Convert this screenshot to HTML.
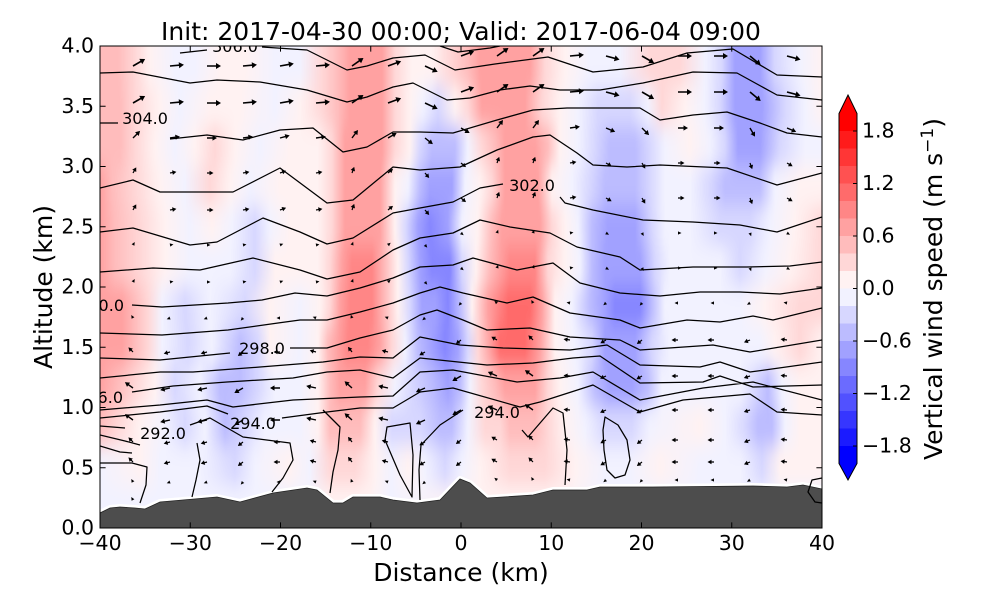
<!DOCTYPE html>
<html><head><meta charset="utf-8">
<style>
html,body{margin:0;padding:0;background:#fff;}
svg{display:block;}
text{font-family:"DejaVu Sans","Liberation Sans",sans-serif;fill:#000;}
.p1{stop-color:#fff2f2}.p2{stop-color:#ffd7d7}.p3{stop-color:#ffbcbc}.p4{stop-color:#ffa1a1}.p5{stop-color:#ff8686}.p6{stop-color:#ff6b6b}
.b1{stop-color:#f2f2ff}.b2{stop-color:#d7d7ff}.b3{stop-color:#bcbcff}.b4{stop-color:#a1a1ff}.b5{stop-color:#8686ff}
</style></head>
<body>
<svg xmlns="http://www.w3.org/2000/svg" width="1000" height="600" viewBox="0 0 1000 600">
<defs>
<clipPath id="pc"><rect x="100" y="46" width="722" height="482"/></clipPath>
<filter id="bv" filterUnits="userSpaceOnUse" x="0" y="0" width="1000" height="600"><feGaussianBlur stdDeviation="0 10"/></filter>
<path id="a0" d="M0,-1.6 L3.5,0 L0,1.6Z"/>
<path id="a1" d="M0,-0.6 H2.5 V-2.3 L6.5,0 L2.5,2.3 V0.6 H0Z"/>
<path id="a2" d="M0,-0.7 H5.5 V-2.6 L10,0 L5.5,2.6 V0.7 H0Z"/>
<path id="a3" d="M0,-0.8 H9 V-3 L14,0 L9,3 V0.8 H0Z"/>
<linearGradient id="g0" gradientUnits="userSpaceOnUse" x1="0" y1="0" x2="1000" y2="0">
<stop offset=".1" class="p3"/><stop offset=".118" class="p3"/><stop offset=".135" class="p2"/><stop offset=".15" class="p1"/><stop offset=".175" class="b1"/><stop offset=".195" class="b1"/><stop offset=".22" class="p1"/><stop offset=".245" class="p1"/><stop offset=".275" class="b1"/><stop offset=".3" class="b1"/><stop offset=".322" class="p2"/><stop offset=".338" class="p3"/><stop offset=".35" class="p4"/><stop offset=".382" class="p4"/><stop offset=".395" class="p2"/><stop offset=".412" class="p1"/><stop offset=".432" class="p1"/><stop offset=".45" class="p2"/><stop offset=".468" class="p3"/><stop offset=".48" class="p4"/><stop offset=".53" class="p4"/><stop offset=".545" class="p2"/><stop offset=".565" class="p1"/><stop offset=".59" class="b1"/><stop offset=".62" class="b1"/><stop offset=".65" class="p2"/><stop offset=".68" class="p2"/><stop offset=".705" class="b1"/><stop offset=".722" class="b2"/><stop offset=".735" class="b4"/><stop offset=".76" class="b4"/><stop offset=".775" class="b2"/><stop offset=".8" class="b1"/><stop offset=".822" class="p1"/>
</linearGradient>
<linearGradient id="g1" gradientUnits="userSpaceOnUse" x1="0" y1="0" x2="1000" y2="0">
<stop offset=".1" class="p3"/><stop offset=".12" class="p3"/><stop offset=".135" class="p2"/><stop offset=".16" class="p1"/><stop offset=".18" class="b1"/><stop offset=".21" class="p1"/><stop offset=".24" class="p1"/><stop offset=".275" class="b1"/><stop offset=".3" class="p1"/><stop offset=".322" class="p2"/><stop offset=".338" class="p3"/><stop offset=".35" class="p4"/><stop offset=".382" class="p4"/><stop offset=".395" class="p2"/><stop offset=".41" class="p1"/><stop offset=".423" class="b1"/><stop offset=".438" class="b2"/><stop offset=".455" class="p1"/><stop offset=".468" class="p2"/><stop offset=".482" class="p4"/><stop offset=".525" class="p4"/><stop offset=".542" class="p2"/><stop offset=".56" class="p1"/><stop offset=".578" class="b1"/><stop offset=".598" class="b2"/><stop offset=".63" class="b2"/><stop offset=".648" class="b1"/><stop offset=".662" class="p2"/><stop offset=".685" class="p1"/><stop offset=".705" class="b1"/><stop offset=".72" class="b2"/><stop offset=".735" class="b4"/><stop offset=".762" class="b4"/><stop offset=".785" class="b2"/><stop offset=".805" class="b1"/><stop offset=".822" class="p1"/>
</linearGradient>
<linearGradient id="g2" gradientUnits="userSpaceOnUse" x1="0" y1="0" x2="1000" y2="0">
<stop offset=".1" class="p3"/><stop offset=".12" class="p3"/><stop offset=".135" class="p2"/><stop offset=".155" class="p1"/><stop offset=".175" class="b1"/><stop offset=".195" class="p1"/><stop offset=".215" class="p2"/><stop offset=".235" class="p1"/><stop offset=".26" class="b1"/><stop offset=".29" class="p1"/><stop offset=".318" class="p1"/><stop offset=".332" class="p2"/><stop offset=".345" class="p4"/><stop offset=".382" class="p4"/><stop offset=".395" class="p2"/><stop offset=".41" class="p1"/><stop offset=".42" class="b2"/><stop offset=".432" class="b3"/><stop offset=".455" class="b3"/><stop offset=".468" class="b1"/><stop offset=".482" class="p2"/><stop offset=".495" class="p3"/><stop offset=".505" class="p4"/><stop offset=".535" class="p4"/><stop offset=".548" class="p3"/><stop offset=".56" class="p1"/><stop offset=".578" class="b1"/><stop offset=".595" class="b2"/><stop offset=".61" class="b3"/><stop offset=".635" class="b3"/><stop offset=".65" class="b2"/><stop offset=".665" class="b1"/><stop offset=".69" class="p1"/><stop offset=".71" class="b1"/><stop offset=".725" class="b2"/><stop offset=".738" class="b4"/><stop offset=".76" class="b4"/><stop offset=".78" class="b2"/><stop offset=".805" class="b1"/><stop offset=".822" class="b1"/>
</linearGradient>
<linearGradient id="g3" gradientUnits="userSpaceOnUse" x1="0" y1="0" x2="1000" y2="0">
<stop offset=".1" class="p4"/><stop offset=".112" class="p3"/><stop offset=".135" class="p2"/><stop offset=".16" class="p1"/><stop offset=".185" class="b1"/><stop offset=".21" class="p2"/><stop offset=".23" class="p1"/><stop offset=".25" class="b1"/><stop offset=".28" class="p1"/><stop offset=".318" class="p1"/><stop offset=".332" class="p2"/><stop offset=".345" class="p4"/><stop offset=".38" class="p4"/><stop offset=".395" class="p1"/><stop offset=".408" class="b1"/><stop offset=".42" class="b3"/><stop offset=".43" class="b4"/><stop offset=".452" class="b4"/><stop offset=".465" class="b1"/><stop offset=".48" class="p1"/><stop offset=".492" class="p2"/><stop offset=".505" class="p4"/><stop offset=".538" class="p4"/><stop offset=".552" class="p1"/><stop offset=".572" class="b1"/><stop offset=".59" class="b2"/><stop offset=".605" class="b3"/><stop offset=".635" class="b3"/><stop offset=".65" class="b2"/><stop offset=".665" class="b1"/><stop offset=".69" class="b1"/><stop offset=".71" class="b2"/><stop offset=".725" class="b3"/><stop offset=".76" class="b3"/><stop offset=".775" class="b1"/><stop offset=".8" class="p1"/><stop offset=".822" class="p1"/>
</linearGradient>
<linearGradient id="g4" gradientUnits="userSpaceOnUse" x1="0" y1="0" x2="1000" y2="0">
<stop offset=".1" class="p4"/><stop offset=".115" class="p3"/><stop offset=".14" class="p2"/><stop offset=".165" class="p1"/><stop offset=".19" class="b1"/><stop offset=".212" class="p1"/><stop offset=".232" class="b1"/><stop offset=".255" class="b2"/><stop offset=".27" class="b1"/><stop offset=".29" class="p1"/><stop offset=".318" class="p1"/><stop offset=".332" class="p2"/><stop offset=".345" class="p4"/><stop offset=".38" class="p4"/><stop offset=".395" class="p1"/><stop offset=".406" class="b2"/><stop offset=".418" class="b4"/><stop offset=".43" class="b5"/><stop offset=".448" class="b4"/><stop offset=".462" class="b1"/><stop offset=".478" class="p1"/><stop offset=".492" class="p3"/><stop offset=".502" class="p4"/><stop offset=".54" class="p4"/><stop offset=".552" class="p2"/><stop offset=".565" class="p1"/><stop offset=".578" class="b1"/><stop offset=".592" class="b3"/><stop offset=".608" class="b4"/><stop offset=".635" class="b4"/><stop offset=".652" class="b2"/><stop offset=".665" class="b1"/><stop offset=".69" class="b1"/><stop offset=".72" class="b2"/><stop offset=".75" class="b2"/><stop offset=".77" class="b1"/><stop offset=".795" class="p1"/><stop offset=".822" class="p2"/>
</linearGradient>
<linearGradient id="g5" gradientUnits="userSpaceOnUse" x1="0" y1="0" x2="1000" y2="0">
<stop offset=".1" class="p4"/><stop offset=".115" class="p3"/><stop offset=".14" class="p2"/><stop offset=".165" class="p1"/><stop offset=".19" class="b1"/><stop offset=".23" class="b1"/><stop offset=".255" class="b2"/><stop offset=".275" class="p1"/><stop offset=".318" class="p1"/><stop offset=".33" class="p2"/><stop offset=".342" class="p4"/><stop offset=".352" class="p5"/><stop offset=".372" class="p5"/><stop offset=".385" class="p3"/><stop offset=".398" class="p1"/><stop offset=".408" class="b2"/><stop offset=".42" class="b4"/><stop offset=".432" class="b5"/><stop offset=".45" class="b5"/><stop offset=".462" class="b2"/><stop offset=".476" class="p1"/><stop offset=".49" class="p3"/><stop offset=".5" class="p4"/><stop offset=".51" class="p5"/><stop offset=".535" class="p5"/><stop offset=".548" class="p2"/><stop offset=".565" class="p1"/><stop offset=".58" class="b1"/><stop offset=".592" class="b3"/><stop offset=".605" class="b4"/><stop offset=".64" class="b4"/><stop offset=".655" class="b2"/><stop offset=".67" class="b1"/><stop offset=".72" class="b1"/><stop offset=".74" class="b2"/><stop offset=".765" class="b1"/><stop offset=".79" class="p1"/><stop offset=".822" class="p2"/>
</linearGradient>
<linearGradient id="g6" gradientUnits="userSpaceOnUse" x1="0" y1="0" x2="1000" y2="0">
<stop offset=".1" class="p4"/><stop offset=".122" class="p4"/><stop offset=".135" class="p3"/><stop offset=".148" class="p2"/><stop offset=".162" class="b1"/><stop offset=".185" class="b2"/><stop offset=".21" class="b1"/><stop offset=".245" class="b2"/><stop offset=".27" class="p1"/><stop offset=".3" class="b1"/><stop offset=".32" class="p1"/><stop offset=".33" class="p2"/><stop offset=".34" class="p4"/><stop offset=".35" class="p5"/><stop offset=".372" class="p5"/><stop offset=".385" class="p3"/><stop offset=".398" class="p1"/><stop offset=".41" class="b2"/><stop offset=".422" class="b4"/><stop offset=".435" class="b4"/><stop offset=".448" class="b5"/><stop offset=".46" class="b3"/><stop offset=".472" class="p1"/><stop offset=".488" class="p4"/><stop offset=".498" class="p5"/><stop offset=".508" class="p6"/><stop offset=".53" class="p6"/><stop offset=".542" class="p4"/><stop offset=".555" class="p1"/><stop offset=".572" class="b1"/><stop offset=".59" class="b3"/><stop offset=".605" class="b4"/><stop offset=".615" class="b5"/><stop offset=".64" class="b5"/><stop offset=".652" class="b3"/><stop offset=".665" class="b1"/><stop offset=".74" class="b1"/><stop offset=".765" class="p1"/><stop offset=".8" class="p2"/><stop offset=".822" class="p2"/>
</linearGradient>
<linearGradient id="g7" gradientUnits="userSpaceOnUse" x1="0" y1="0" x2="1000" y2="0">
<stop offset=".1" class="p4"/><stop offset=".122" class="p4"/><stop offset=".135" class="p3"/><stop offset=".148" class="p2"/><stop offset=".162" class="b1"/><stop offset=".188" class="b2"/><stop offset=".212" class="b1"/><stop offset=".24" class="b3"/><stop offset=".258" class="b2"/><stop offset=".27" class="p1"/><stop offset=".3" class="b1"/><stop offset=".318" class="p1"/><stop offset=".328" class="p3"/><stop offset=".338" class="p4"/><stop offset=".348" class="p5"/><stop offset=".368" class="p5"/><stop offset=".38" class="p4"/><stop offset=".392" class="p2"/><stop offset=".405" class="b1"/><stop offset=".418" class="b3"/><stop offset=".432" class="b4"/><stop offset=".445" class="b5"/><stop offset=".458" class="b4"/><stop offset=".468" class="b2"/><stop offset=".478" class="p2"/><stop offset=".49" class="p4"/><stop offset=".5" class="p6"/><stop offset=".525" class="p6"/><stop offset=".54" class="p4"/><stop offset=".555" class="p1"/><stop offset=".575" class="b1"/><stop offset=".592" class="b2"/><stop offset=".605" class="b4"/><stop offset=".635" class="b4"/><stop offset=".652" class="b2"/><stop offset=".67" class="b1"/><stop offset=".76" class="b1"/><stop offset=".775" class="p1"/><stop offset=".8" class="p2"/><stop offset=".822" class="p1"/>
</linearGradient>
<linearGradient id="g8" gradientUnits="userSpaceOnUse" x1="0" y1="0" x2="1000" y2="0">
<stop offset=".1" class="p4"/><stop offset=".118" class="p3"/><stop offset=".135" class="p2"/><stop offset=".155" class="p1"/><stop offset=".175" class="b2"/><stop offset=".2" class="b1"/><stop offset=".22" class="b3"/><stop offset=".24" class="b3"/><stop offset=".258" class="b2"/><stop offset=".275" class="b1"/><stop offset=".3" class="b1"/><stop offset=".318" class="p1"/><stop offset=".33" class="p3"/><stop offset=".34" class="p4"/><stop offset=".365" class="p4"/><stop offset=".378" class="p2"/><stop offset=".395" class="b1"/><stop offset=".412" class="b2"/><stop offset=".432" class="b3"/><stop offset=".448" class="b4"/><stop offset=".46" class="b3"/><stop offset=".47" class="b1"/><stop offset=".482" class="p2"/><stop offset=".495" class="p3"/><stop offset=".505" class="p4"/><stop offset=".535" class="p4"/><stop offset=".548" class="p2"/><stop offset=".56" class="p1"/><stop offset=".578" class="b1"/><stop offset=".595" class="b3"/><stop offset=".61" class="b4"/><stop offset=".632" class="b4"/><stop offset=".648" class="b3"/><stop offset=".662" class="b1"/><stop offset=".74" class="b1"/><stop offset=".755" class="b2"/><stop offset=".768" class="b3"/><stop offset=".782" class="b1"/><stop offset=".8" class="p1"/><stop offset=".822" class="p1"/>
</linearGradient>
<linearGradient id="g9" gradientUnits="userSpaceOnUse" x1="0" y1="0" x2="1000" y2="0">
<stop offset=".1" class="p3"/><stop offset=".118" class="p2"/><stop offset=".14" class="p1"/><stop offset=".165" class="b1"/><stop offset=".185" class="b2"/><stop offset=".205" class="b1"/><stop offset=".225" class="b3"/><stop offset=".245" class="b2"/><stop offset=".265" class="b1"/><stop offset=".3" class="b1"/><stop offset=".318" class="p1"/><stop offset=".33" class="p3"/><stop offset=".36" class="p3"/><stop offset=".375" class="p1"/><stop offset=".392" class="b2"/><stop offset=".42" class="b2"/><stop offset=".44" class="b3"/><stop offset=".452" class="b3"/><stop offset=".468" class="b1"/><stop offset=".485" class="p2"/><stop offset=".5" class="p2"/><stop offset=".51" class="p3"/><stop offset=".535" class="p3"/><stop offset=".548" class="p2"/><stop offset=".565" class="p1"/><stop offset=".585" class="b1"/><stop offset=".605" class="b2"/><stop offset=".632" class="b2"/><stop offset=".65" class="b1"/><stop offset=".7" class="p1"/><stop offset=".725" class="b1"/><stop offset=".745" class="b2"/><stop offset=".758" class="b3"/><stop offset=".772" class="b3"/><stop offset=".785" class="b1"/><stop offset=".8" class="p1"/><stop offset=".822" class="p1"/>
</linearGradient>
<linearGradient id="g10" gradientUnits="userSpaceOnUse" x1="0" y1="0" x2="1000" y2="0">
<stop offset=".1" class="b1"/><stop offset=".14" class="p1"/><stop offset=".16" class="b1"/><stop offset=".2" class="b1"/><stop offset=".235" class="b2"/><stop offset=".255" class="b1"/><stop offset=".29" class="p1"/><stop offset=".31" class="b1"/><stop offset=".33" class="p2"/><stop offset=".355" class="p2"/><stop offset=".375" class="p1"/><stop offset=".392" class="b1"/><stop offset=".408" class="p1"/><stop offset=".425" class="b1"/><stop offset=".445" class="b2"/><stop offset=".462" class="b1"/><stop offset=".48" class="p1"/><stop offset=".51" class="p2"/><stop offset=".545" class="p2"/><stop offset=".575" class="p1"/><stop offset=".605" class="b1"/><stop offset=".63" class="b1"/><stop offset=".66" class="p1"/><stop offset=".7" class="b1"/><stop offset=".74" class="b1"/><stop offset=".762" class="b2"/><stop offset=".78" class="p1"/><stop offset=".822" class="p1"/>
</linearGradient>
<linearGradient id="g11" gradientUnits="userSpaceOnUse" x1="0" y1="0" x2="1000" y2="0">
<stop offset=".1" class="b1"/><stop offset=".3" class="b1"/><stop offset=".33" class="p1"/><stop offset=".37" class="p1"/><stop offset=".39" class="b1"/><stop offset=".47" class="p1"/><stop offset=".56" class="p1"/><stop offset=".6" class="b1"/><stop offset=".822" class="b1"/>
</linearGradient>
</defs>

<rect x="0" y="0" width="1000" height="600" fill="#fff"/>

<g clip-path="url(#pc)">
<g filter="url(#bv)">
<rect x="100" y="0" width="722" height="86" fill="url(#g0)"/>
<rect x="100" y="86" width="722" height="40" fill="url(#g1)"/>
<rect x="100" y="126" width="722" height="40" fill="url(#g2)"/>
<rect x="100" y="166" width="722" height="40" fill="url(#g3)"/>
<rect x="100" y="206" width="722" height="40" fill="url(#g4)"/>
<rect x="100" y="246" width="722" height="40" fill="url(#g5)"/>
<rect x="100" y="286" width="722" height="40" fill="url(#g6)"/>
<rect x="100" y="326" width="722" height="40" fill="url(#g7)"/>
<rect x="100" y="366" width="722" height="40" fill="url(#g8)"/>
<rect x="100" y="406" width="722" height="40" fill="url(#g9)"/>
<rect x="100" y="446" width="722" height="40" fill="url(#g10)"/>
<rect x="100" y="486" width="722" height="114" fill="url(#g11)"/>
</g>

<polyline fill="none" stroke="#fff" stroke-width="6" stroke-linejoin="round" points="100,513 110,508 120,507 135,508 145,509 160,502 183,500 217,497 240,502 273,493 307,488 317,490 333,503 343,503 353,497 380,497 393,500 417,503 440,500 460,479 470,483 487,498 503,497 533,495 553,490 587,490 600,487 653,487 753,486 787,487 803,485 822,489"/>
<polygon fill="#4d4d4d" stroke="#222" stroke-width="0.8" points="100,513 110,508 120,507 135,508 145,509 160,502 183,500 217,497 240,502 273,493 307,488 317,490 333,503 343,503 353,497 380,497 393,500 417,503 440,500 460,479 470,483 487,498 503,497 533,495 553,490 587,490 600,487 653,487 753,486 787,487 803,485 822,489 822,530 100,530"/>

<path fill="none" stroke="#000" stroke-width="1.25" stroke-linejoin="round" d="
M440,46 L458,52 L490,48 L500,46
M180,53 L207,50 M262,47 L307,50 L347,70 L367,66 L393,58 L425,55 L455,70 L495,64 L548,57 L593,72 L643,67 L687,53 L733,49 L777,75 L822,77
M100,73 L133,72 L190,83 L217,80 L260,82 L307,90 L347,102 L367,97 L393,87 L413,83 L447,100 L470,98 L500,90 L530,86 L560,90 L600,90 L643,83 L693,72 L737,73 L777,95 L822,100
M100,123 L118,123 M170,139 L207,135 L243,140 L280,130 L313,128 L343,152 L367,147 L393,132 L420,132 L453,133 L497,120 L533,110 L567,108 L640,108 L660,120 L693,115 L727,112 L760,123 L787,133 L822,137
M100,188 L133,180 L160,192 L233,192 L280,168 L327,203 L353,200 L393,167 L420,170 L460,167 L497,150 L533,137 L550,135 L577,153 L593,165 L627,167 L660,165 L727,168 L777,185 L822,173
M100,232 L133,228 L190,245 L217,242 L263,218 L300,232 L327,244 L353,238 L393,213 L420,208 L453,202 L480,188 L503,184 M560,197 L565,203 L593,210 L643,220 L693,222 L740,225 L777,232 L822,217
M100,272 L153,268 L200,270 L253,258 L300,270 L327,279 L360,272 L393,250 L420,238 L453,233 L480,220 L510,227 L550,233 L577,247 L620,257 L640,270 L693,267 L747,267 L790,266 L822,262
M132,305 L162,307 L228,303 L262,300 L295,293 L327,296 L360,288 L393,278 L420,267 L453,265 L473,258 L517,270 L553,263 L580,283 L620,293 L660,296 L700,292 L740,292 L780,294 L822,288
M100,333 L162,335 L228,330 L278,323 L300,320 L327,320 L360,312 L393,303 L420,293 L440,287 L463,293 L507,303 L533,297 L570,313 L620,320 L640,328 L687,320 L720,322 L753,316 L773,320 L822,308
M100,358 L160,360 L230,353 M290,348 L327,348 L360,338 L393,330 L420,315 L437,310 L463,320 L487,330 L530,328 L570,337 L620,340 L640,350 L713,345 L750,352 L822,340
M100,378 L160,372 L193,372 L260,367 L323,362 L360,357 L393,358 L420,337 L460,345 L503,348 L570,350 L607,345 L640,365 L700,367 L720,362 L750,372 L822,362
M132,392 L173,386 L227,382 L293,378 L327,372 L360,370 L393,378 L420,358 L487,365 L533,363 L573,358 L600,356 L640,383 L703,382 L720,376 L753,387 L822,385
M100,410 L160,405 L207,400 L233,407 L293,400 L360,397 L393,396 L420,372 L453,370 L517,382 L560,378 L593,372 L640,400 L703,388 L753,382 L822,400
M100,418 L160,412 L207,406 L228,414 M282,418 L327,412 L360,408 L393,408 L420,392 L453,388 L520,407 L540,402 L593,385 L640,412 L683,400 L750,394 L777,412 L822,415
M100,426 L125,428 M190,425 L210,418 L243,437 L290,443 L293,460 L283,478 L272,492
M100,435 L125,441 L140,445
M100,446 L120,452 L132,453
M100,463 L132,463 L147,467 L146,485 L140,503
M197,443 L200,460 L196,480 L192,497
M323,410 L340,427 L338,450 L333,472 L330,493
M387,427 L410,423 L413,455 L412,497 L400,475 L385,440 Z
M420,500 L419,470 L421,445 L440,425 L463,410
M522,430 L528,437 L553,408 L563,413 L567,450 L565,485
M605,417 L618,425 L627,440 L630,460 L625,475 L615,478 L607,470 L604,450 L603,430 Z
M822,478 L812,480 L808,492 L815,502 L822,503
"/>

<g font-size="16">
<text x="235" y="52" text-anchor="middle">306.0</text>
<text x="145" y="124" text-anchor="middle">304.0</text>
<text x="532" y="191" text-anchor="middle">302.0</text>
<text x="124" y="311" text-anchor="end">300.0</text>
<text x="262" y="354" text-anchor="middle">298.0</text>
<text x="123" y="403" text-anchor="end">296.0</text>
<text x="253" y="429" text-anchor="middle">294.0</text>
<text x="497" y="418" text-anchor="middle">294.0</text>
<text x="163" y="439" text-anchor="middle">292.0</text>
</g>

<g fill="#000">
<use href="#a3" transform="translate(133 66) rotate(-30)"/><use href="#a3" transform="translate(133 103) rotate(-30)"/><use href="#a2" transform="translate(133 138) rotate(-45)"/><use href="#a1" transform="translate(133 173) rotate(-60)"/><use href="#a1" transform="translate(133 210) rotate(-60)"/><use href="#a0" transform="translate(133 245) rotate(-60)"/><use href="#a0" transform="translate(133 282) rotate(-60)"/><use href="#a0" transform="translate(133 318) rotate(240)"/><use href="#a1" transform="translate(133 352) rotate(225)"/><use href="#a2" transform="translate(133 388) rotate(216)"/><use href="#a2" transform="translate(133 420) rotate(216)"/><use href="#a1" transform="translate(133 442) rotate(225)"/><use href="#a1" transform="translate(133 462) rotate(225)"/><use href="#a0" transform="translate(133 482) rotate(240)"/><use href="#a0" transform="translate(133 500) rotate(240)"/>

<use href="#a3" transform="translate(170 66) rotate(-5)"/><use href="#a3" transform="translate(170 103) rotate(-5)"/><use href="#a2" transform="translate(170 138) rotate(-8)"/><use href="#a1" transform="translate(170 173) rotate(-10)"/><use href="#a1" transform="translate(170 210) rotate(-10)"/><use href="#a0" transform="translate(170 245) rotate(-10)"/><use href="#a0" transform="translate(170 282) rotate(-10)"/><use href="#a0" transform="translate(170 318) rotate(160)"/><use href="#a1" transform="translate(170 352) rotate(165)"/><use href="#a2" transform="translate(170 388) rotate(168)"/><use href="#a2" transform="translate(170 420) rotate(168)"/><use href="#a1" transform="translate(170 442) rotate(165)"/><use href="#a1" transform="translate(170 462) rotate(165)"/><use href="#a0" transform="translate(170 482) rotate(160)"/>

<use href="#a3" transform="translate(207 66) rotate(0)"/><use href="#a3" transform="translate(207 103) rotate(0)"/><use href="#a2" transform="translate(207 138) rotate(0)"/><use href="#a1" transform="translate(207 173) rotate(0)"/><use href="#a1" transform="translate(207 210) rotate(0)"/><use href="#a0" transform="translate(207 245) rotate(0)"/><use href="#a0" transform="translate(207 282) rotate(0)"/><use href="#a0" transform="translate(207 318) rotate(160)"/><use href="#a1" transform="translate(207 352) rotate(165)"/><use href="#a2" transform="translate(207 388) rotate(168)"/><use href="#a2" transform="translate(207 420) rotate(168)"/><use href="#a1" transform="translate(207 442) rotate(165)"/><use href="#a1" transform="translate(207 462) rotate(165)"/><use href="#a0" transform="translate(207 482) rotate(160)"/>

<use href="#a3" transform="translate(243 66) rotate(-5)"/><use href="#a3" transform="translate(243 103) rotate(-5)"/><use href="#a2" transform="translate(243 138) rotate(-8)"/><use href="#a1" transform="translate(243 173) rotate(-10)"/><use href="#a1" transform="translate(243 210) rotate(-10)"/><use href="#a0" transform="translate(243 245) rotate(-10)"/><use href="#a0" transform="translate(243 282) rotate(-10)"/><use href="#a0" transform="translate(243 318) rotate(130)"/><use href="#a1" transform="translate(243 352) rotate(142)"/><use href="#a2" transform="translate(243 388) rotate(150)"/><use href="#a2" transform="translate(243 420) rotate(150)"/><use href="#a1" transform="translate(243 442) rotate(142)"/><use href="#a1" transform="translate(243 462) rotate(142)"/><use href="#a0" transform="translate(243 482) rotate(130)"/>

<use href="#a3" transform="translate(280 66) rotate(-10)"/><use href="#a3" transform="translate(280 103) rotate(-10)"/><use href="#a2" transform="translate(280 138) rotate(-15)"/><use href="#a1" transform="translate(280 173) rotate(-20)"/><use href="#a1" transform="translate(280 210) rotate(-20)"/><use href="#a0" transform="translate(280 245) rotate(-20)"/><use href="#a0" transform="translate(280 282) rotate(-20)"/><use href="#a0" transform="translate(280 318) rotate(180)"/><use href="#a1" transform="translate(280 352) rotate(180)"/><use href="#a2" transform="translate(280 388) rotate(180)"/><use href="#a2" transform="translate(280 420) rotate(180)"/><use href="#a1" transform="translate(280 442) rotate(180)"/><use href="#a1" transform="translate(280 462) rotate(180)"/><use href="#a0" transform="translate(280 482) rotate(180)"/>

<use href="#a3" transform="translate(316 66) rotate(-5)"/><use href="#a3" transform="translate(316 103) rotate(-5)"/><use href="#a2" transform="translate(316 138) rotate(-8)"/><use href="#a1" transform="translate(316 173) rotate(-10)"/><use href="#a1" transform="translate(316 210) rotate(-10)"/><use href="#a0" transform="translate(316 245) rotate(-10)"/><use href="#a0" transform="translate(316 282) rotate(-10)"/><use href="#a0" transform="translate(316 318) rotate(200)"/><use href="#a1" transform="translate(316 352) rotate(195)"/><use href="#a2" transform="translate(316 388) rotate(192)"/><use href="#a2" transform="translate(316 420) rotate(192)"/><use href="#a1" transform="translate(316 442) rotate(195)"/><use href="#a1" transform="translate(316 462) rotate(195)"/><use href="#a0" transform="translate(316 482) rotate(200)"/>

<use href="#a3" transform="translate(352 66) rotate(-35)"/><use href="#a3" transform="translate(352 103) rotate(-35)"/><use href="#a2" transform="translate(352 138) rotate(-53)"/><use href="#a1" transform="translate(352 173) rotate(-70)"/><use href="#a1" transform="translate(352 210) rotate(-70)"/><use href="#a0" transform="translate(352 245) rotate(-70)"/><use href="#a0" transform="translate(352 282) rotate(-70)"/><use href="#a0" transform="translate(352 318) rotate(250)"/><use href="#a1" transform="translate(352 352) rotate(232)"/><use href="#a2" transform="translate(352 388) rotate(222)"/><use href="#a2" transform="translate(352 420) rotate(222)"/><use href="#a1" transform="translate(352 442) rotate(232)"/><use href="#a1" transform="translate(352 462) rotate(232)"/><use href="#a0" transform="translate(352 482) rotate(250)"/>

<use href="#a3" transform="translate(388 66) rotate(-20)"/><use href="#a3" transform="translate(388 103) rotate(-20)"/><use href="#a2" transform="translate(388 138) rotate(-30)"/><use href="#a1" transform="translate(388 173) rotate(-40)"/><use href="#a1" transform="translate(388 210) rotate(-40)"/><use href="#a0" transform="translate(388 245) rotate(-40)"/><use href="#a0" transform="translate(388 282) rotate(-40)"/><use href="#a0" transform="translate(388 318) rotate(200)"/><use href="#a1" transform="translate(388 352) rotate(195)"/><use href="#a2" transform="translate(388 388) rotate(192)"/><use href="#a2" transform="translate(388 420) rotate(192)"/><use href="#a1" transform="translate(388 442) rotate(195)"/><use href="#a1" transform="translate(388 462) rotate(195)"/><use href="#a0" transform="translate(388 482) rotate(200)"/>

<use href="#a3" transform="translate(425 66) rotate(25)"/><use href="#a3" transform="translate(425 103) rotate(25)"/><use href="#a2" transform="translate(425 138) rotate(38)"/><use href="#a1" transform="translate(425 173) rotate(50)"/><use href="#a1" transform="translate(425 210) rotate(50)"/><use href="#a0" transform="translate(425 245) rotate(50)"/><use href="#a0" transform="translate(425 282) rotate(50)"/><use href="#a0" transform="translate(425 318) rotate(140)"/><use href="#a1" transform="translate(425 352) rotate(150)"/><use href="#a2" transform="translate(425 388) rotate(156)"/><use href="#a2" transform="translate(425 420) rotate(156)"/><use href="#a1" transform="translate(425 442) rotate(150)"/><use href="#a1" transform="translate(425 462) rotate(150)"/><use href="#a0" transform="translate(425 482) rotate(140)"/>

<use href="#a3" transform="translate(461 56) rotate(-20)"/><use href="#a3" transform="translate(461 92) rotate(-20)"/><use href="#a2" transform="translate(461 128) rotate(30)"/><use href="#a1" transform="translate(461 163) rotate(40)"/><use href="#a1" transform="translate(461 198) rotate(40)"/><use href="#a0" transform="translate(461 233) rotate(40)"/><use href="#a0" transform="translate(461 268) rotate(40)"/><use href="#a0" transform="translate(461 303) rotate(130)"/><use href="#a1" transform="translate(461 340) rotate(142)"/><use href="#a2" transform="translate(461 376) rotate(150)"/><use href="#a2" transform="translate(461 410) rotate(150)"/><use href="#a1" transform="translate(461 440) rotate(142)"/><use href="#a1" transform="translate(461 462) rotate(142)"/>

<use href="#a3" transform="translate(497 56) rotate(-35)"/><use href="#a3" transform="translate(497 92) rotate(-35)"/><use href="#a2" transform="translate(497 128) rotate(-53)"/><use href="#a1" transform="translate(497 163) rotate(-70)"/><use href="#a1" transform="translate(497 198) rotate(-70)"/><use href="#a0" transform="translate(497 233) rotate(-70)"/><use href="#a0" transform="translate(497 268) rotate(-70)"/><use href="#a0" transform="translate(497 303) rotate(220)"/><use href="#a1" transform="translate(497 340) rotate(210)"/><use href="#a2" transform="translate(497 376) rotate(204)"/><use href="#a2" transform="translate(497 410) rotate(204)"/><use href="#a1" transform="translate(497 440) rotate(210)"/><use href="#a1" transform="translate(497 462) rotate(210)"/><use href="#a0" transform="translate(497 480) rotate(220)"/>

<use href="#a3" transform="translate(533 56) rotate(-35)"/><use href="#a3" transform="translate(533 92) rotate(-35)"/><use href="#a2" transform="translate(533 128) rotate(-53)"/><use href="#a1" transform="translate(533 163) rotate(-70)"/><use href="#a1" transform="translate(533 198) rotate(-70)"/><use href="#a0" transform="translate(533 233) rotate(-70)"/><use href="#a0" transform="translate(533 268) rotate(-70)"/><use href="#a0" transform="translate(533 303) rotate(240)"/><use href="#a1" transform="translate(533 340) rotate(225)"/><use href="#a2" transform="translate(533 376) rotate(216)"/><use href="#a2" transform="translate(533 410) rotate(216)"/><use href="#a1" transform="translate(533 440) rotate(225)"/><use href="#a1" transform="translate(533 462) rotate(225)"/><use href="#a0" transform="translate(533 480) rotate(240)"/>

<use href="#a3" transform="translate(570 56) rotate(-5)"/><use href="#a3" transform="translate(570 92) rotate(-5)"/><use href="#a2" transform="translate(570 128) rotate(-8)"/><use href="#a1" transform="translate(570 163) rotate(-10)"/><use href="#a1" transform="translate(570 198) rotate(-10)"/><use href="#a0" transform="translate(570 233) rotate(-10)"/><use href="#a0" transform="translate(570 268) rotate(-10)"/><use href="#a0" transform="translate(570 303) rotate(190)"/><use href="#a1" transform="translate(570 340) rotate(188)"/><use href="#a1" transform="translate(570 376) rotate(186)"/><use href="#a1" transform="translate(570 410) rotate(186)"/><use href="#a1" transform="translate(570 440) rotate(188)"/><use href="#a1" transform="translate(570 462) rotate(188)"/><use href="#a0" transform="translate(570 480) rotate(190)"/>

<use href="#a3" transform="translate(606 56) rotate(15)"/><use href="#a3" transform="translate(606 92) rotate(15)"/><use href="#a2" transform="translate(606 128) rotate(23)"/><use href="#a1" transform="translate(606 163) rotate(30)"/><use href="#a1" transform="translate(606 198) rotate(30)"/><use href="#a0" transform="translate(606 233) rotate(30)"/><use href="#a0" transform="translate(606 268) rotate(30)"/><use href="#a0" transform="translate(606 303) rotate(140)"/><use href="#a1" transform="translate(606 340) rotate(150)"/><use href="#a1" transform="translate(606 376) rotate(156)"/><use href="#a1" transform="translate(606 410) rotate(156)"/><use href="#a1" transform="translate(606 440) rotate(150)"/><use href="#a1" transform="translate(606 462) rotate(150)"/><use href="#a0" transform="translate(606 480) rotate(140)"/>

<use href="#a3" transform="translate(642 56) rotate(30)"/><use href="#a3" transform="translate(642 92) rotate(30)"/><use href="#a2" transform="translate(642 128) rotate(45)"/><use href="#a1" transform="translate(642 163) rotate(60)"/><use href="#a1" transform="translate(642 198) rotate(60)"/><use href="#a0" transform="translate(642 233) rotate(60)"/><use href="#a0" transform="translate(642 268) rotate(60)"/><use href="#a0" transform="translate(642 303) rotate(130)"/><use href="#a1" transform="translate(642 340) rotate(142)"/><use href="#a1" transform="translate(642 376) rotate(150)"/><use href="#a1" transform="translate(642 410) rotate(150)"/><use href="#a1" transform="translate(642 440) rotate(142)"/><use href="#a1" transform="translate(642 462) rotate(142)"/><use href="#a0" transform="translate(642 480) rotate(130)"/>

<use href="#a3" transform="translate(678 56) rotate(0)"/><use href="#a3" transform="translate(678 92) rotate(0)"/><use href="#a2" transform="translate(678 128) rotate(0)"/><use href="#a1" transform="translate(678 163) rotate(0)"/><use href="#a1" transform="translate(678 198) rotate(0)"/><use href="#a0" transform="translate(678 233) rotate(0)"/><use href="#a0" transform="translate(678 268) rotate(0)"/><use href="#a0" transform="translate(678 303) rotate(180)"/><use href="#a1" transform="translate(678 340) rotate(180)"/><use href="#a1" transform="translate(678 376) rotate(180)"/><use href="#a1" transform="translate(678 410) rotate(180)"/><use href="#a1" transform="translate(678 440) rotate(180)"/><use href="#a1" transform="translate(678 462) rotate(180)"/><use href="#a0" transform="translate(678 480) rotate(180)"/>

<use href="#a3" transform="translate(714 56) rotate(0)"/><use href="#a3" transform="translate(714 92) rotate(0)"/><use href="#a2" transform="translate(714 128) rotate(0)"/><use href="#a1" transform="translate(714 163) rotate(0)"/><use href="#a1" transform="translate(714 198) rotate(0)"/><use href="#a0" transform="translate(714 233) rotate(0)"/><use href="#a0" transform="translate(714 268) rotate(0)"/><use href="#a0" transform="translate(714 303) rotate(180)"/><use href="#a1" transform="translate(714 340) rotate(180)"/><use href="#a1" transform="translate(714 376) rotate(180)"/><use href="#a1" transform="translate(714 410) rotate(180)"/><use href="#a1" transform="translate(714 440) rotate(180)"/><use href="#a1" transform="translate(714 462) rotate(180)"/><use href="#a0" transform="translate(714 480) rotate(180)"/>

<use href="#a3" transform="translate(750 56) rotate(40)"/><use href="#a3" transform="translate(750 92) rotate(40)"/><use href="#a2" transform="translate(750 128) rotate(60)"/><use href="#a1" transform="translate(750 163) rotate(70)"/><use href="#a1" transform="translate(750 198) rotate(70)"/><use href="#a0" transform="translate(750 233) rotate(70)"/><use href="#a0" transform="translate(750 268) rotate(70)"/><use href="#a0" transform="translate(750 303) rotate(150)"/><use href="#a1" transform="translate(750 340) rotate(158)"/><use href="#a1" transform="translate(750 376) rotate(162)"/><use href="#a1" transform="translate(750 410) rotate(162)"/><use href="#a1" transform="translate(750 440) rotate(158)"/><use href="#a1" transform="translate(750 462) rotate(158)"/><use href="#a0" transform="translate(750 480) rotate(150)"/>

<use href="#a3" transform="translate(787 56) rotate(15)"/><use href="#a3" transform="translate(787 92) rotate(15)"/><use href="#a2" transform="translate(787 128) rotate(23)"/><use href="#a1" transform="translate(787 163) rotate(30)"/><use href="#a1" transform="translate(787 198) rotate(30)"/><use href="#a0" transform="translate(787 233) rotate(30)"/><use href="#a0" transform="translate(787 268) rotate(30)"/><use href="#a0" transform="translate(787 303) rotate(190)"/><use href="#a1" transform="translate(787 340) rotate(188)"/><use href="#a1" transform="translate(787 376) rotate(186)"/><use href="#a1" transform="translate(787 410) rotate(186)"/><use href="#a1" transform="translate(787 440) rotate(188)"/><use href="#a1" transform="translate(787 462) rotate(188)"/><use href="#a0" transform="translate(787 480) rotate(190)"/>
</g>
</g>

<rect x="100" y="46" width="722" height="482" fill="none" stroke="#000" stroke-width="1"/>
<path stroke="#000" stroke-width="1" fill="none" d="
M100,528h5.6M100,467.75h5.6M100,407.5h5.6M100,347.25h5.6M100,287h5.6M100,226.75h5.6M100,166.5h5.6M100,106.25h5.6M100,46h5.6
M822,528h-5.6M822,467.75h-5.6M822,407.5h-5.6M822,347.25h-5.6M822,287h-5.6M822,226.75h-5.6M822,166.5h-5.6M822,106.25h-5.6M822,46h-5.6
M190.25,528v-5.6M280.5,528v-5.6M370.75,528v-5.6M461,528v-5.6M551.25,528v-5.6M641.5,528v-5.6M731.75,528v-5.6
M190.25,46v5.6M280.5,46v5.6M370.75,46v5.6M461,46v5.6M551.25,46v5.6M641.5,46v5.6M731.75,46v5.6"/>

<g font-size="20.5" text-anchor="middle">
<text x="100" y="550">−40</text>
<text x="190.25" y="550">−30</text>
<text x="280.5" y="550">−20</text>
<text x="370.75" y="550">−10</text>
<text x="461" y="550">0</text>
<text x="551.25" y="550">10</text>
<text x="641.5" y="550">20</text>
<text x="731.75" y="550">30</text>
<text x="822" y="550">40</text>
</g>
<g font-size="20.5" text-anchor="end">
<text x="94" y="534.5">0.0</text>
<text x="94" y="474.25">0.5</text>
<text x="94" y="414">1.0</text>
<text x="94" y="353.75">1.5</text>
<text x="94" y="293.5">2.0</text>
<text x="94" y="233.25">2.5</text>
<text x="94" y="173">3.0</text>
<text x="94" y="112.75">3.5</text>
<text x="94" y="52.5">4.0</text>
</g>

<text x="461" y="40" font-size="25" text-anchor="middle">Init: 2017-04-30 00:00; Valid: 2017-06-04 09:00</text>
<text x="461" y="581" font-size="25" text-anchor="middle">Distance (km)</text>
<text transform="translate(52 287) rotate(-90)" font-size="25" text-anchor="middle">Altitude (km)</text>

<g>
<rect x="839" y="113.5" width="18" height="17.6" fill="#ff0000"/>
<rect x="839" y="131" width="18" height="17.6" fill="#ff1b1b"/>
<rect x="839" y="148.5" width="18" height="17.6" fill="#ff3636"/>
<rect x="839" y="166" width="18" height="17.6" fill="#ff5151"/>
<rect x="839" y="183.5" width="18" height="17.6" fill="#ff6b6b"/>
<rect x="839" y="201" width="18" height="17.6" fill="#ff8686"/>
<rect x="839" y="218.5" width="18" height="17.6" fill="#ffa1a1"/>
<rect x="839" y="236" width="18" height="17.6" fill="#ffbcbc"/>
<rect x="839" y="253.5" width="18" height="17.6" fill="#ffd7d7"/>
<rect x="839" y="271" width="18" height="17.6" fill="#fff2f2"/>
<rect x="839" y="288.5" width="18" height="17.6" fill="#f2f2ff"/>
<rect x="839" y="306" width="18" height="17.6" fill="#d7d7ff"/>
<rect x="839" y="323.5" width="18" height="17.6" fill="#bcbcff"/>
<rect x="839" y="341" width="18" height="17.6" fill="#a1a1ff"/>
<rect x="839" y="358.5" width="18" height="17.6" fill="#8686ff"/>
<rect x="839" y="376" width="18" height="17.6" fill="#6b6bff"/>
<rect x="839" y="393.5" width="18" height="17.6" fill="#5151ff"/>
<rect x="839" y="411" width="18" height="17.6" fill="#3636ff"/>
<rect x="839" y="428.5" width="18" height="17.6" fill="#1b1bff"/>
<rect x="839" y="446" width="18" height="17.5" fill="#0000ff"/>
<polygon points="839,113.6 857,113.6 848,95" fill="#ff0000"/>
<polygon points="839,463.4 857,463.4 848,480" fill="#0000ff"/>
<path d="M848,95 L857,113.5 L857,463.5 L848,480 L839,463.5 L839,113.5 Z" fill="none" stroke="#000" stroke-width="1"/>
<path stroke="#000" stroke-width="1" d="M853,131H857M853,183.5H857M853,236H857M853,288.5H857M853,341H857M853,393.5H857M853,446H857"/>
</g>
<g font-size="20.5">
<text x="862" y="137.5">1.8</text>
<text x="862" y="190">1.2</text>
<text x="862" y="242.5">0.6</text>
<text x="862" y="295">0.0</text>
<text x="862" y="347.5">−0.6</text>
<text x="862" y="400">−1.2</text>
<text x="862" y="452.5">−1.8</text>
</g>
<text transform="translate(942 289) rotate(-90)" font-size="25" text-anchor="middle">Vertical wind speed (m s<tspan font-size="17" dy="-9">−1</tspan><tspan dy="9">)</tspan></text>
</svg>
</body></html>
